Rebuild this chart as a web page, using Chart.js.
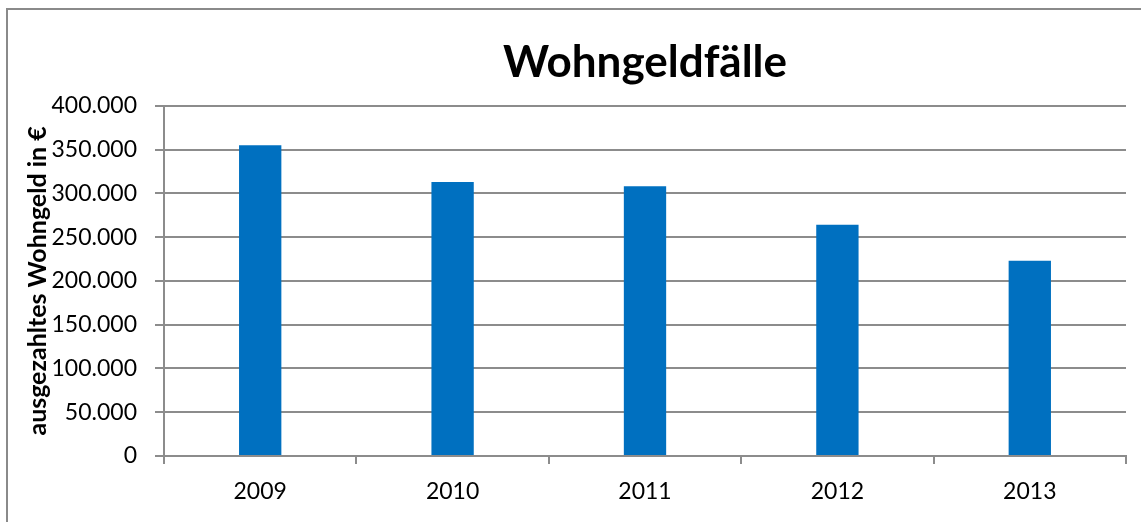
<!DOCTYPE html>
<html lang="de">
<head>
<meta charset="utf-8">
<title>Wohngeldfälle</title>
<script src="https://cdn.jsdelivr.net/npm/chart.js@4"></script>
<style>
    html, body { margin: 0; padding: 0; background: #fff; overflow: hidden; }
    #wrap { position: relative; width: 1141px; height: 522px; }
    #frame {
        position: absolute; left: 6px; top: 8px; width: 2000px; height: 2000px;
        border-left: 2px solid #8a8a8a; border-top: 2px solid #8a8a8a;
        pointer-events: none;
    }
</style>
</head>
<body>
<div id="wrap">
    <canvas id="chart" width="1141" height="522"></canvas>
    <div id="frame"></div>
</div>
<script>
// Data
const years = ['2009', '2010', '2011', '2012', '2013'];
const wohngeld = [355000, 313000, 308000, 264000, 223000];
const yTicks = [0, 50000, 100000, 150000, 200000, 250000, 300000, 350000, 400000];

const gridColor = '#8c8c8c';
const fontFamily = 'Lato, "Open Sans", sans-serif';

/**
 * Format numbers German style (400.000)
 */
function formatDe(value) {
    return String(Math.round(value)).replace(/\B(?=(\d{3})+(?!\d))/g, '.');
}

new Chart(document.getElementById('chart'), {
    type: 'bar',
    data: {
        labels: years,
        datasets: [{
            label: 'ausgezahltes Wohngeld in €',
            data: wohngeld,
            backgroundColor: '#0070c0',
            borderWidth: 0,
            barPercentage: 0.22,
            categoryPercentage: 1
        }]
    },
    options: {
        responsive: false,
        animation: false,
        layout: { padding: { top: 0, right: 15, bottom: 0, left: 0 } },
        plugins: {
            legend: { display: false },
            tooltip: { enabled: false },
            title: {
                display: true,
                text: 'Wohngeldfälle',
                color: '#000',
                fullSize: false,
                font: { family: fontFamily, size: 44, weight: 'bold' },
                padding: { top: 36, bottom: 17 }
            }
        },
        scales: {
            x: {
                afterFit: (scale) => { scale.height = 66; },
                border: { color: gridColor, width: 2 },
                grid: {
                    drawOnChartArea: false,
                    color: gridColor,
                    lineWidth: 2,
                    tickLength: 8
                },
                ticks: {
                    color: '#000',
                    padding: 14,
                    font: { family: fontFamily, size: 23 }
                }
            },
            y: {
                min: 0,
                max: 400000,
                afterFit: (scale) => { scale.width = 164; },
                afterBuildTicks: (scale) => {
                    scale.ticks = yTicks.map(v => ({ value: v }));
                },
                border: { color: gridColor, width: 2 },
                grid: {
                    color: gridColor,
                    lineWidth: 2,
                    tickLength: 9
                },
                ticks: {
                    color: '#000',
                    padding: 18,
                    font: { family: fontFamily, size: 23 },
                    callback: (value) => formatDe(value)
                },
                title: {
                    display: true,
                    text: 'ausgezahltes Wohngeld in €',
                    color: '#000',
                    font: { family: fontFamily, size: 25, weight: 'bold' },
                    padding: { top: 23, bottom: 0 }
                }
            }
        }
    }
});
</script>
</body>
</html>
